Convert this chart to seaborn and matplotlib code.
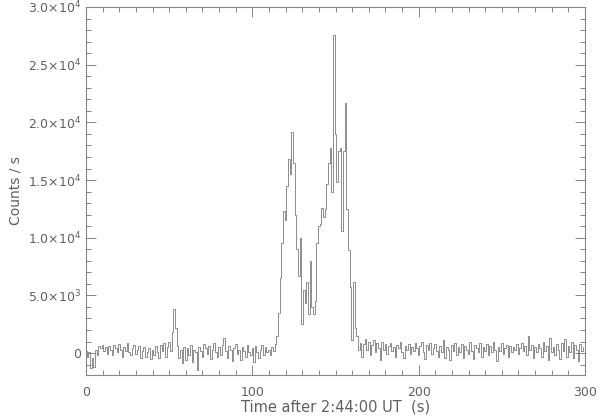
import numpy as np
import pandas as pd
import matplotlib
matplotlib.use("Agg")
import matplotlib.pyplot as plt
import seaborn as sns
from matplotlib.ticker import FixedLocator, MultipleLocator

# ---- data (1-s bins, counts/s) ----
pre_burst = [
    200, -300, 100, -1300, -400, -1200, 300, -200, 600, 400,
    700, 200, 500, -100, 600, 300, -200, 700, 400, 100,
    800, 300, -300, 500, 200, 900, 100, -200, 400, 700,
    -100, 300, 600, -400, 200, 500, -300, 100, 400, -500,
    300, -200, 600, 100, -400, 700, 200, 900, -300, 500,
    1000, 200, 1800, 3800, 2200, 600, -400, 300, -900, 500,
    -600, 400, -200, 700, -800, 300, 100, -1500, 500, 200,
    -300, 800, 400, -100, 600, -500, 300, 900, 100, -300,
    500, -200, 700, 1300, 200, -400, 600, 300, -700, 400,
    800, -100, 300, -600, 500, 200, -300, 700, 100, -200,
    400, -800, 600, 100, -400, 300, 700, -200, 500, 100,
]
burst = [
    300, -200, 500, 200, 800, 1500, 3500, 6500, 9500, 12300,
    11500, 14500, 16800, 15500, 19200, 16500, 12000, 9000, 6700, 10000,
    2500, 5500, 4300, 6200, 3400, 8000, 4000, 3400, 4500, 9500,
    11000, 11200, 12600, 11800, 12500, 14700, 16500, 17800, 14000, 27600,
    19000, 14800, 17500, 17800, 10600, 17500, 21700, 12500, 8900, 5700,
    1100, 6200, 2200, 1500, 300, 900,
]
post_burst = [
    -300, 800, 1200, 300, 1000, -200, 700, 1100, 100, 900, 400, -600, 1000, 300,
    800, -100, 600, 900, 200, 500, -300, 700, 400, 1000, 100, -400, 600, 300, 800, -100, 500, 200, 900, 400,
    -200, 600, 1000, 100, -500, 700, 300, 900, -100, 400, 800, 200, -300, 600, 100, 1100, -400, 500, 300, -600,
    700, 200, 900, -200, 500, 100, 800, -400, 600, 300, -100, 1000, 200, -500, 700, 400, 100, 900, -300, 500,
    200, 800, -200, 600, 100, 1000, 300, -700, 500, 200, 900, -100, 400, 700, -300, 600, 100, 500, 300, 800,
    -100, 400, 900, 200, 600, -200, 1500, 300, 700, -400, 500, 100, 800, 400, -300, 1000, 200, 600, -600, 1300,
    100, 500, -200, 800, 300, -500, 900, 200, 1200, -300, 600, 100, 1000, -400, 700, 300, -700, 800, 200, 500,
]
counts = pre_burst + burst + post_burst
times = list(range(len(counts)))

ytick_vals = [0, 5000, 10000, 15000, 20000, 25000, 30000]
ytick_labels = ["0", r"5.0$\times$10$^3$", r"1.0$\times$10$^4$", r"1.5$\times$10$^4$",
                r"2.0$\times$10$^4$", r"2.5$\times$10$^4$", r"3.0$\times$10$^4$"]
xtick_vals = [0, 100, 200, 300]

df = pd.DataFrame({"t": times, "c": counts})

sns.set_style("white")
plt.rcParams["font.family"] = ["DejaVu Sans"]
plt.rcParams["mathtext.fontset"] = "dejavusans"

fig = plt.figure(figsize=(6.0, 4.18), dpi=100)
ax = fig.add_axes([86/600, 43/418, (585-86)/600, (375-7)/418])

gray = "#858585"
txt = "#606060"
sns.lineplot(data=df, x="t", y="c", ax=ax, color=gray, linewidth=0.65,
             drawstyle="steps-mid", estimator=None)

ax.set_xlim(0, 300)
ax.set_ylim(-1900, 30000)
ax.xaxis.set_major_locator(FixedLocator(xtick_vals))
ax.xaxis.set_minor_locator(MultipleLocator(10))
ax.yaxis.set_major_locator(FixedLocator(ytick_vals))
ax.set_yticklabels(ytick_labels)
ax.yaxis.set_minor_locator(MultipleLocator(1000))

for s in ax.spines.values():
    s.set_color(gray)
    s.set_linewidth(0.8)
ax.tick_params(which="both", direction="in", top=True, right=True,
               bottom=True, left=True, color=gray, width=0.7,
               labelcolor=txt, labelsize=9)
ax.tick_params(which="major", length=7)
ax.tick_params(which="minor", length=3.5)
ax.tick_params(axis="x", which="major", pad=8)

ax.set_xlabel("Time after 2:44:00 UT  (s)", color=txt, fontsize=10.5, labelpad=0)
ax.set_ylabel("Counts / s", color=txt, fontsize=10, labelpad=4)

fig.savefig("out.png", dpi=100)
